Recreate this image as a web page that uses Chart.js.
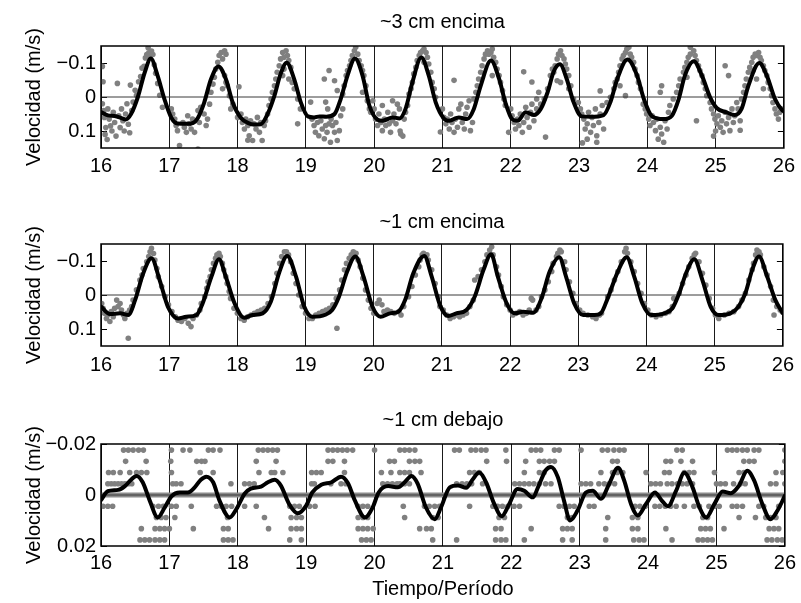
<!DOCTYPE html>
<html>
<head>
<meta charset="utf-8">
<script src="https://cdn.jsdelivr.net/npm/chart.js@4.4.1/dist/chart.umd.min.js"></script>
<style>
body { margin: 0; background: #fff; }
canvas { position: absolute; left: 0; }
</style>
</head>
<body>
<canvas id="c1" width="801" height="200" style="top:0px"></canvas>
<canvas id="c2" width="801" height="200" style="top:200px"></canvas>
<canvas id="c3" width="801" height="203" style="top:400px"></canvas>
<script>
const xTicks = [16, 17, 18, 19, 20, 21, 22, 23, 24, 25, 26];
const titles = ["~3 cm encima", "~1 cm encima", "~1 cm debajo"];
const yTitle = "Velocidad (m/s)";
const xTitle = "Tiempo/Período";

const yTicksAbove = [-0.1, 0, 0.1];
const yLabelsAbove = ["\u22120.1", "0", "0.1"];
const yTicksBelow = [-0.02, 0, 0.02];
const yLabelsBelow = ["\u22120.02", "0", "0.02"];

// smooth (black) curve, panel 1
const curveT1 = [16.00,16.10,16.20,16.30,16.36,16.44,16.54,16.64,16.73,16.83,16.93,17.03,17.12,17.25,17.35,17.42,17.51,17.61,17.72,17.83,17.93,
  18.05,18.15,18.25,18.34,18.44,18.54,18.63,18.72,18.83,18.93,19.03,19.12,19.20,19.30,19.42,19.51,19.61,19.72,19.83,19.93,
  20.05,20.12,20.27,20.37,20.46,20.56,20.69,20.80,20.90,21.02,21.10,21.24,21.36,21.46,21.56,21.71,21.83,21.92,
  22.02,22.10,22.22,22.34,22.44,22.54,22.63,22.72,22.82,22.92,23.04,23.17,23.36,23.46,23.56,23.71,23.85,23.95,
  24.07,24.24,24.36,24.46,24.55,24.68,24.80,24.92,25.02,25.16,25.28,25.38,25.48,25.64,25.75,25.87,25.98,26.00];
const curveV1 = [0.044,0.054,0.056,0.062,0.066,0.050,0.000,-0.072,-0.113,-0.062,0.007,0.061,0.078,0.079,0.076,0.061,0.017,-0.052,-0.090,-0.052,0.017,
  0.062,0.076,0.081,0.080,0.050,-0.004,-0.068,-0.101,-0.052,0.018,0.057,0.060,0.057,0.058,0.050,0.006,-0.063,-0.113,-0.063,0.025,
  0.067,0.070,0.060,0.063,0.035,-0.043,-0.116,-0.063,0.015,0.063,0.070,0.060,0.065,0.035,-0.033,-0.107,-0.053,0.015,
  0.065,0.070,0.045,0.053,0.035,-0.014,-0.075,-0.096,-0.053,0.015,0.057,0.058,0.053,0.015,-0.053,-0.110,-0.063,0.006,
  0.057,0.065,0.055,0.006,-0.063,-0.105,-0.063,0.001,0.033,0.045,0.053,0.035,-0.033,-0.100,-0.063,0.006,0.040,0.042];

// smooth curve, panel 2
const curveT2 = [16.00,16.13,16.28,16.40,16.50,16.62,16.74,16.86,16.98,17.13,17.25,17.40,17.49,17.62,17.73,17.83,17.96,
  18.10,18.22,18.37,18.49,18.61,18.73,18.86,18.98,19.10,19.29,19.39,19.49,19.61,19.73,19.85,19.98,
  20.10,20.24,20.36,20.46,20.58,20.74,20.85,20.97,21.09,21.21,21.36,21.48,21.61,21.72,21.82,21.95,
  22.07,22.19,22.34,22.46,22.58,22.72,22.82,22.94,23.07,23.24,23.33,23.43,23.58,23.71,23.82,23.94,
  24.07,24.26,24.38,24.48,24.58,24.70,24.82,24.94,25.06,25.23,25.35,25.45,25.55,25.65,25.77,25.89,26.00];
const curveV2 = [0.034,0.056,0.054,0.059,0.015,-0.064,-0.108,-0.044,0.034,0.069,0.064,0.059,0.025,-0.054,-0.105,-0.054,0.025,
  0.067,0.059,0.054,0.020,-0.064,-0.115,-0.054,0.034,0.064,0.058,0.044,0.005,-0.069,-0.113,-0.054,0.034,
  0.064,0.054,0.049,0.015,-0.064,-0.115,-0.054,0.029,0.062,0.054,0.044,0.005,-0.074,-0.120,-0.054,0.025,
  0.054,0.049,0.052,0.010,-0.069,-0.111,-0.054,0.025,0.059,0.059,0.054,0.010,-0.069,-0.111,-0.054,0.025,
  0.059,0.054,0.039,-0.005,-0.064,-0.105,-0.044,0.034,0.059,0.054,0.034,-0.005,-0.074,-0.113,-0.054,0.015,0.054];

// smooth curve, panel 3
const curveT3 = [16.00,16.10,16.25,16.35,16.44,16.52,16.61,16.71,16.83,16.93,17.03,17.15,17.27,17.37,17.46,17.54,17.64,17.73,17.88,17.98,
  18.10,18.19,18.34,18.44,18.54,18.63,18.75,18.88,19.00,19.09,19.22,19.37,19.51,19.61,19.71,19.86,19.97,
  20.06,20.20,20.34,20.44,20.54,20.63,20.75,20.88,20.97,21.10,21.22,21.34,21.44,21.53,21.63,21.75,21.86,21.97,
  22.09,22.19,22.31,22.41,22.50,22.58,22.68,22.77,22.86,22.97,23.09,23.19,23.31,23.43,23.56,23.65,23.75,23.85,23.97,
  24.10,24.20,24.29,24.41,24.53,24.65,24.75,24.85,24.97,25.09,25.21,25.33,25.45,25.55,25.67,25.79,25.89,26.00];
const curveV3 = [0.0020,-0.0015,-0.0020,-0.0035,-0.0060,-0.0075,-0.0050,0.0020,0.0088,0.0050,0.0005,-0.0010,-0.0010,-0.0030,-0.0060,-0.0072,-0.0050,0.0020,0.0088,0.0055,
  -0.0005,-0.0025,-0.0033,-0.0050,-0.0060,-0.0037,0.0035,0.0072,0.0042,-0.0010,-0.0040,-0.0050,-0.0072,-0.0047,0.0020,0.0088,0.0050,
  -0.0010,-0.0035,-0.0030,-0.0050,-0.0075,-0.0045,0.0048,0.0095,0.0050,-0.0030,-0.0037,-0.0028,-0.0063,-0.0088,-0.0050,0.0035,0.0083,0.0035,
  -0.0024,-0.0017,0.0009,-0.0043,-0.0096,-0.0110,-0.0070,0.0022,0.0100,0.0060,-0.0010,-0.0017,0.0015,-0.0043,-0.0107,-0.0057,0.0035,0.0080,0.0035,
  -0.0010,0.0022,0.0044,-0.0017,-0.0087,-0.0030,0.0048,0.0088,0.0035,-0.0014,-0.0007,-0.0037,-0.0095,-0.0057,0.0035,0.0095,0.0062,0.0003];

// measured points (grey), panel 1: [time, velocity]
const dots1 = [
  [16.02,-0.09],[16.03,-0.045],[16.02,0.02],[16.04,0.04],[16.05,0.06],[16.07,0.09],[16.06,0.11],[16.09,0.125],[16.1,0.035],[16.12,0.065],
  [16.14,0.085],[16.16,0.1],[16.18,0.045],[16.2,0.075],[16.22,0.115],[16.24,-0.04],[16.26,0.055],[16.28,0.09],[16.3,0.035],[16.32,0.07],
  [16.34,0.1],[16.36,0.05],[16.38,0.02],[16.4,0.08],[16.42,0.105],[16.43,-0.035],[16.45,0.04],[16.47,0.015],[16.5,-0.02],[16.52,-0.005],
  [16.55,-0.045],[16.58,-0.06],[16.6,-0.085],[16.63,-0.09],[16.65,-0.115],[16.67,-0.125],[16.69,-0.145],[16.7,-0.13],[16.72,-0.12],[16.74,-0.135],
  [16.76,-0.125],[16.78,-0.095],[16.8,-0.07],[16.83,-0.04],[16.86,-0.005],[16.9,0.03],
  [17.03,0.035],[17.05,0.05],[17.08,0.065],[17.1,0.084],[17.12,0.099],[17.15,0.143],[17.2,0.075],[17.22,0.089],[17.25,0.104],[17.27,0.055],
  [17.29,0.079],[17.32,0.094],[17.34,0.065],[17.37,0.104],[17.42,0.04],[17.42,0.153],[17.44,0.075],[17.46,0.03],[17.51,0.05],[17.54,0.084],
  [17.56,0.065],[17.59,0.021],[17.61,-0.014],[17.64,-0.038],[17.66,-0.058],[17.68,-0.082],[17.71,-0.102],[17.73,-0.122],[17.76,-0.131],[17.78,-0.112],
  [17.81,-0.136],[17.83,-0.126],[17.81,-0.063],[17.83,-0.043],[17.78,-0.024],[17.85,-0.033],[17.88,-0.004],[17.9,0.035],[17.93,0.021],
  [18.05,0.05],[18.07,0.075],[18.1,0.094],[18.12,0.065],[18.15,0.084],[18.17,0.114],[18.19,0.07],[18.22,0.128],[18.24,0.079],[18.27,0.094],
  [18.29,0.06],[18.32,0.104],[18.34,0.075],[18.36,0.128],[18.39,0.084],[18.41,0.07],[18.44,0.05],[18.46,0.025],[18.49,0.006],[18.51,-0.014],
  [18.54,-0.033],[18.56,-0.053],[18.58,-0.073],[18.61,-0.092],[18.63,-0.112],[18.66,-0.131],[18.68,-0.117],[18.71,-0.136],[18.73,-0.122],[18.75,-0.107],
  [18.78,-0.087],[18.68,-0.082],[18.66,-0.063],[18.75,-0.053],[18.8,-0.043],[18.83,-0.024],[18.88,0.079],[18.88,0.006],[18.92,0.035],[18.15,0.127],
  [18.0,0.06],[18.02,-0.03],
  [19.07,0.015],[19.09,0.065],[19.12,0.084],[19.14,0.104],[19.17,0.075],[19.19,0.114],[19.22,0.07],[19.24,0.094],[19.27,0.123],[19.29,0.084],
  [19.31,0.104],[19.34,0.079],[19.36,0.133],[19.27,-0.053],[19.34,-0.078],[19.29,0.015],[19.32,0.035],[19.37,0.065],[19.39,0.084],[19.42,0.104],
  [19.44,0.075],[19.46,0.128],[19.49,0.099],[19.51,0.055],[19.54,0.035],[19.42,-0.048],[19.46,-0.019],[19.54,-0.009],[19.56,-0.033],[19.59,-0.063],
  [19.61,-0.078],[19.64,-0.092],[19.66,-0.107],[19.68,-0.122],[19.71,-0.136],[19.73,-0.146],[19.76,-0.126],[19.78,-0.107],[19.81,-0.092],[19.83,-0.078],
  [19.85,-0.063],[19.88,-0.033],[19.83,-0.014],[19.9,0.011],[19.93,0.035],[19.95,0.045],
  [19.98,0.011],[20.0,0.035],[20.02,0.065],[20.05,0.084],[20.07,0.05],[20.1,0.075],[20.12,0.099],[20.15,0.065],[20.17,0.084],[20.2,0.045],
  [20.22,0.079],[20.24,0.104],[20.27,0.07],[20.29,0.05],[20.32,0.079],[20.34,0.021],[20.37,0.035],[20.39,0.109],[20.44,0.065],[20.46,0.045],
  [20.49,0.025],[20.12,0.025],[20.27,0.011],[20.38,0.1],[20.42,0.115],[20.51,-0.009],[20.54,-0.024],[20.56,-0.043],[20.58,-0.068],[20.61,-0.087],
  [20.63,-0.107],[20.66,-0.122],[20.68,-0.131],[20.71,-0.136],[20.73,-0.141],[20.76,-0.131],[20.78,-0.117],[20.73,-0.102],[20.8,-0.097],[20.83,-0.073],
  [20.85,-0.043],[20.88,-0.024],[20.9,0.001],
  [20.97,0.103],[21.0,0.035],[21.02,0.06],[21.05,0.079],[21.07,0.065],[21.1,0.094],[21.12,0.05],[21.14,0.075],[21.17,0.104],[21.17,-0.049],
  [21.19,0.065],[21.22,0.089],[21.24,0.035],[21.27,0.021],[21.29,0.075],[21.32,0.094],[21.34,0.05],[21.36,0.03],[21.39,0.011],[21.41,0.099],
  [21.44,0.075],[21.46,0.006],[21.49,-0.014],[21.51,-0.033],[21.53,-0.053],[21.56,-0.073],[21.58,-0.092],[21.61,-0.112],[21.63,-0.126],[21.66,-0.136],
  [21.68,-0.126],[21.71,-0.131],[21.73,-0.141],[21.75,-0.117],[21.78,-0.102],[21.8,-0.082],[21.73,-0.063],[21.83,-0.063],[21.85,-0.043],[21.88,-0.019],
  [21.9,0.006],[21.92,0.025],
  [21.97,0.104],[22.0,0.035],[22.02,0.055],[22.05,0.075],[22.07,0.094],[22.1,0.065],[22.12,0.084],[22.14,0.05],[22.17,0.104],[22.19,0.075],
  [22.19,-0.074],[22.22,0.03],[22.24,0.06],[22.27,0.089],[22.29,0.045],[22.31,0.021],[22.31,-0.044],[22.34,0.07],[22.38,0.035],[22.38,0.006],
  [22.41,-0.014],[22.44,0.021],[22.49,0.006],[22.51,0.118],[22.54,-0.024],[22.58,-0.063],[22.61,-0.082],[22.63,-0.073],[22.65,-0.092],[22.68,-0.112],
  [22.7,-0.126],[22.73,-0.136],[22.75,-0.122],[22.78,-0.112],[22.8,-0.097],[22.82,-0.082],[22.85,-0.063],[22.88,-0.033],[22.73,-0.043],[22.68,-0.048],
  [22.85,-0.024],[22.92,0.006],
  [22.99,0.016],[23.02,0.035],[23.04,0.05],[23.07,0.065],[23.09,0.094],[23.12,0.079],[23.14,0.045],[23.17,0.104],[23.19,0.06],[23.21,0.084],
  [23.24,0.035],[23.26,0.114],[23.29,0.075],[23.31,0.05],[23.34,0.025],[23.36,0.094],[23.12,0.124],[23.05,0.135],[23.26,0.133],[23.31,-0.018],
  [23.41,0.016],[23.46,0.001],[23.51,-0.024],[23.53,-0.043],[23.56,-0.053],[23.58,-0.073],[23.6,-0.092],[23.63,-0.112],[23.65,-0.122],[23.68,-0.131],
  [23.7,-0.141],[23.73,-0.146],[23.75,-0.126],[23.77,-0.117],[23.8,-0.102],[23.82,-0.082],[23.85,-0.063],[23.87,-0.043],[23.9,-0.024],[23.6,-0.033],
  [23.68,-0.004],
  [23.94,0.021],[23.97,0.035],[23.99,0.05],[24.02,0.065],[24.04,0.084],[24.07,0.055],[24.09,0.075],[24.12,0.099],[24.14,0.065],[24.16,0.124],
  [24.19,0.089],[24.21,0.109],[24.24,0.133],[24.26,0.07],[24.29,0.094],[24.31,0.045],[24.33,0.025],[24.19,-0.014],[24.21,-0.033],[24.38,0.006],
  [24.43,-0.014],[24.46,-0.033],[24.48,-0.053],[24.53,-0.073],[24.55,-0.087],[24.58,-0.102],[24.6,-0.117],[24.63,-0.126],[24.68,-0.136],[24.7,-0.122],
  [24.72,-0.107],[24.75,-0.092],[24.77,-0.078],[24.8,-0.063],[24.82,-0.043],[24.85,-0.024],[24.87,-0.004],[24.58,-0.058],[24.72,0.07],[24.63,-0.146],
  [24.92,0.016],[24.94,0.035],[24.97,0.05],[24.99,0.065],[25.02,0.079],[25.04,0.055],[25.07,0.089],[25.09,0.07],[25.11,0.104],[25.14,0.045],
  [25.16,0.079],[25.19,0.06],[25.21,0.099],[25.24,0.035],[25.26,0.075],[25.28,0.055],[25.31,0.016],[25.33,0.035],[25.36,0.07],[25.38,0.006],
  [25.14,-0.092],[25.19,-0.063],[24.97,0.115],[25.0,0.1],[25.36,0.098],[25.41,-0.014],[25.43,-0.033],[25.45,-0.053],[25.48,-0.073],[25.5,-0.087],
  [25.53,-0.102],[25.55,-0.117],[25.58,-0.126],[25.6,-0.122],[25.63,-0.131],[25.65,-0.117],[25.67,-0.107],[25.7,-0.092],[25.72,-0.078],[25.75,-0.063],
  [25.77,-0.043],[25.8,-0.024],[25.82,-0.004],[25.84,0.016],[25.87,0.035],[25.89,0.05],[25.92,0.065],[25.94,0.045],[25.96,0.035],[25.55,-0.078],
  [25.6,-0.053],[25.7,-0.024]
];

// measured points, panel 2
const dots2 = [
  [16.01,0.025],[16.03,0.039],[16.05,0.054],[16.08,0.069],[16.1,0.059],[16.13,0.078],[16.15,0.049],[16.18,0.064],[16.2,0.039],[16.23,0.015],
  [16.25,0.034],[16.28,0.025],[16.3,0.044],[16.33,0.059],[16.35,0.069],[16.38,0.054],[16.4,0.127],[16.42,0.044],[16.45,0.034],[16.47,0.015],
  [16.52,-0.015],[16.57,-0.044],[16.6,-0.059],[16.62,-0.078],[16.67,-0.098],[16.7,-0.113],[16.72,-0.127],[16.74,-0.137],[16.77,-0.122],[16.79,-0.103],
  [16.82,-0.078],[16.84,-0.054],[16.89,-0.025],[16.94,0.005],[16.99,0.029],[17.04,0.049],[17.09,0.064],[17.13,0.074],[17.18,0.078],
  [17.23,0.069],[17.28,0.083],[17.32,0.093],[17.35,0.069],[17.4,0.059],[17.45,0.044],[17.47,0.025],[17.52,0.005],[17.55,-0.02],[17.57,-0.039],
  [17.6,-0.054],[17.62,-0.074],[17.65,-0.093],[17.68,-0.108],[17.7,-0.118],[17.73,-0.123],[17.75,-0.113],[17.78,-0.093],[17.8,-0.074],[17.83,-0.054],
  [17.85,-0.034],[17.88,-0.01],[17.9,0.01],[17.95,0.039],[18.0,0.054],[18.05,0.069],[18.1,0.074],
  [18.15,0.064],[18.2,0.059],[18.25,0.054],[18.3,0.049],[18.35,0.044],[18.4,0.039],[18.45,0.025],[18.5,0.005],[18.55,-0.034],[18.58,-0.064],
  [18.62,-0.093],[18.65,-0.113],[18.69,-0.127],[18.72,-0.127],[18.75,-0.118],[18.78,-0.098],[18.82,-0.064],[18.86,-0.034],[18.9,0.0],[18.95,0.034],
  [19.0,0.054],[19.05,0.069],[19.1,0.069],[19.15,0.059],
  [19.2,0.054],[19.25,0.049],[19.3,0.044],[19.35,0.039],[19.4,0.029],[19.46,0.098],[19.45,0.01],[19.5,-0.015],[19.53,-0.044],[19.57,-0.074],
  [19.6,-0.093],[19.64,-0.108],[19.67,-0.118],[19.7,-0.127],[19.74,-0.123],[19.77,-0.103],[19.8,-0.083],[19.84,-0.049],[19.88,-0.015],[19.92,0.015],
  [19.96,0.039],[20.0,0.054],[20.05,0.025],[20.08,0.015],[20.12,0.029],[20.15,0.049],
  [20.2,0.044],[20.25,0.049],[20.3,0.054],[20.37,0.049],[20.4,0.059],[20.44,0.034],[20.51,0.005],[20.56,-0.025],[20.61,-0.059],[20.66,-0.083],
  [20.68,-0.103],[20.71,-0.118],[20.73,-0.123],[20.78,-0.118],[20.8,-0.103],[20.85,-0.074],[20.9,-0.034],[20.95,0.005],[20.97,0.034],[21.02,0.044],
  [21.07,0.059],[21.12,0.069],[21.17,0.064],[21.21,0.059],[21.26,0.064],[21.31,0.059],[21.36,0.054],
  [21.41,0.034],[21.46,0.015],[21.48,-0.044],[21.53,-0.054],[21.58,-0.074],[21.63,-0.098],[21.66,-0.118],[21.7,-0.132],[21.73,-0.142],[21.75,-0.118],
  [21.8,-0.083],[21.83,-0.059],[21.87,-0.025],[21.9,0.005],[21.95,0.029],[22.0,0.044],[22.04,0.059],[22.09,0.054],[22.14,0.049],[22.19,0.059],
  [22.24,0.054],[22.28,0.044],[22.31,0.01],[22.33,0.015],[22.38,0.044],
  [22.42,0.034],[22.46,0.005],[22.51,-0.015],[22.56,-0.039],[22.61,-0.069],[22.63,-0.093],[22.68,-0.113],[22.7,-0.123],[22.73,-0.132],[22.75,-0.127],
  [22.8,-0.098],[22.82,-0.074],[22.87,-0.039],[22.92,-0.005],[22.97,0.025],[23.02,0.044],[23.07,0.054],[23.14,0.059],[23.21,0.064],[23.26,0.069],
  [23.31,0.059],[23.34,0.054],
  [23.43,0.005],[23.48,-0.015],[23.53,-0.044],[23.58,-0.069],[23.63,-0.098],[23.68,-0.127],[23.7,-0.137],[23.72,-0.123],[23.77,-0.098],[23.82,-0.069],
  [23.87,-0.034],[23.92,-0.005],[23.97,0.025],[24.02,0.044],[24.07,0.059],[24.14,0.064],[24.21,0.059],[24.28,0.054],[24.33,0.049],[24.38,0.034],
  [24.4,0.01],
  [24.48,-0.005],[24.53,-0.034],[24.58,-0.059],[24.62,-0.083],[24.67,-0.108],[24.7,-0.118],[24.72,-0.123],[24.77,-0.098],[24.82,-0.064],[24.87,-0.029],
  [24.92,0.01],[24.97,0.039],[25.01,0.059],[25.06,0.069],[25.14,0.059],[25.21,0.054],[25.28,0.049],[25.35,0.034],[25.4,0.015],[25.45,-0.005],
  [25.5,-0.044],[25.55,-0.074],[25.57,-0.093],[25.6,-0.118],[25.62,-0.132],[25.65,-0.127],[25.67,-0.118],[25.72,-0.083],[25.77,-0.059],[25.82,-0.025],
  [25.86,0.015],[25.91,0.034],[25.96,0.044],[25.87,0.059],[25.99,0.049]
];

// panel 3: the readings are quantised, so points sit on a few levels
const levels3 = [-0.0176, -0.0132, -0.0088, -0.0044, 0.0044, 0.0088, 0.0132, 0.0176];
const rowTimes3 = [
  [16.33,16.40,16.47,16.55,16.62,17.03,17.20,17.30,17.57,17.64,17.74,18.30,18.37,18.44,18.51,18.58,19.32,19.39,19.46,19.53,19.60,19.68,20.0,
   20.37,20.44,20.51,20.59,21.17,21.24,21.41,21.48,21.56,21.63,21.92,22.29,22.36,22.43,22.63,22.70,23.02,23.33,23.41,23.50,23.58,23.65,
   24.42,24.50,25.16,25.23,25.30,25.38,25.45,25.55,25.62,26.0],
  [16.36,16.66,17.02,17.40,17.47,17.52,18.27,18.56,19.32,19.39,19.56,20.22,20.29,20.51,20.59,20.66,21.64,21.93,22.21,22.41,22.48,22.56,22.63,
   23.48,23.55,24.26,24.33,24.48,24.65,25.40,25.48,25.55,26.0],
  [16.11,16.18,16.28,16.42,16.52,16.59,16.67,17.03,17.45,17.64,18.31,18.49,18.54,18.66,19.08,19.15,19.22,19.56,20.1,20.24,20.37,20.44,20.51,
   20.68,21.39,21.46,21.53,22.19,22.41,22.48,23.31,23.48,23.55,23.63,23.97,24.24,24.31,24.53,24.6,24.67,24.97,25.33,25.4,25.87,25.97],
  [16.10,16.15,16.20,16.25,16.30,16.35,16.40,16.45,17.05,17.10,17.17,17.90,18.10,18.17,18.24,19.08,19.12,19.36,19.51,19.58,20.12,20.19,20.26,
   20.33,20.37,20.44,20.51,21.20,21.28,21.35,21.42,21.58,22.05,22.12,22.19,22.26,22.33,22.41,22.50,22.58,23.02,23.09,23.16,23.28,23.36,23.43,
   23.51,24.04,24.11,24.18,24.28,24.35,24.43,24.50,24.57,24.65,25.0,25.06,25.13,25.25,25.35,25.42,25.79,25.87,26.0],
  [16.03,16.10,16.17,16.76,16.84,16.91,17.03,17.10,17.32,17.69,17.76,17.83,17.91,18.10,18.27,18.76,18.83,18.90,19.05,19.13,19.76,19.83,19.90,
   20.42,20.73,20.80,20.88,20.95,21.39,21.73,21.80,21.87,21.95,22.04,22.12,22.70,22.77,22.85,22.92,23.14,23.21,23.81,23.88,23.96,24.10,24.17,
   24.25,24.33,24.41,24.53,24.67,24.75,24.89,24.97,25.04,25.23,25.30,25.38,25.62,25.69,25.91],
  [16.81,16.88,16.95,17.08,17.85,18.39,18.78,18.86,18.93,19.76,19.83,19.90,20.44,20.85,20.93,21.82,21.90,22.82,22.89,23.41,23.77,23.85,24.80,
   24.87,25.33,25.57,25.72,25.79,25.87],
  [16.59,16.79,16.86,16.93,17.00,17.35,17.79,17.86,18.45,18.78,18.86,18.93,19.76,19.83,19.90,19.98,20.66,20.76,20.83,21.77,21.85,22.29,22.75,
   22.82,22.89,23.38,23.77,23.85,24.26,24.77,24.84,24.91,25.11,25.77,25.84,25.91],
  [16.57,16.64,16.71,16.79,16.86,16.93,17.79,17.86,17.93,18.76,18.93,19.81,19.88,19.95,20.85,21.20,21.77,21.85,21.92,22.19,22.75,22.89,23.38,
   23.79,23.87,23.94,24.35,24.73,24.80,24.87,24.94,25.74,25.81,25.89,25.96]
];
// the zero level is filled with points along the whole record
const zeroRowSpan3 = [16, 26];

const FONT = "'Liberation Sans', Arial, Helvetica, sans-serif";
Chart.defaults.font.family = FONT;
Chart.defaults.font.size = 20;
Chart.defaults.color = "#000";

const boxPlugin = {
  id: "box",
  beforeDatasetsDraw(chart) {
    const { ctx, chartArea: a, scales } = chart;
    ctx.save();
    ctx.strokeStyle = "#000";
    ctx.lineWidth = 1;
    scales.y.ticks.forEach(t => {
      let py = Math.round(scales.y.getPixelForValue(t.value)) + 0.5;
      ctx.beginPath();
      ctx.moveTo(a.left, py); ctx.lineTo(a.left + 6, py);
      ctx.moveTo(a.right - 6, py); ctx.lineTo(a.right, py);
      ctx.stroke();
    });
    ctx.restore();
  },
  afterDatasetsDraw(chart) {
    const { ctx, chartArea: a } = chart;
    ctx.save();
    ctx.strokeStyle = "#000";
    ctx.lineWidth = 1.5;
    ctx.strokeRect(a.left, a.top, a.right - a.left, a.bottom - a.top);
    ctx.restore();
  }
};

function makePanel(id, p) {
  let datasets = [
    {
      type: "line",
      data: p.curveT.map((t, i) => ({ x: t, y: p.curveV[i] })),
      borderColor: "#000", borderWidth: 4, pointRadius: 0,
      cubicInterpolationMode: "monotone", borderJoinStyle: "round", borderCapStyle: "round",
      fill: false, clip: 0, order: 0
    },
    {
      type: "line",
      data: p.zeroT.map(t => ({ x: t, y: 0 })),
      borderColor: "#3a3a3a", borderWidth: 1, pointRadius: 0, fill: false, clip: 0, order: 1
    },
    {
      type: "scatter",
      data: p.dots.map(d => ({ x: d[0], y: d[1] })),
      backgroundColor: "#808080", borderWidth: 0, pointRadius: 2.8, clip: 0, order: 3
    }
  ];
  if (p.zeroRow) {
    datasets.push({
      type: "line",
      data: p.zeroRow.map(t => ({ x: t, y: 0 })),
      borderColor: "#8c8c8c", borderWidth: 5, pointRadius: 0, fill: false, clip: 0, order: 2
    });
  }

  return new Chart(document.getElementById(id), {
    type: "scatter",
    data: { datasets: datasets },
    plugins: [boxPlugin],
    options: {
      responsive: false,
      animation: false,
      devicePixelRatio: 1,
      layout: { padding: { left: 0, right: 15, top: 0, bottom: p.padBottom } },
      plugins: {
        legend: { display: false },
        tooltip: { enabled: false },
        title: {
          display: true, text: p.title, fullSize: false,
          font: { size: 20, weight: "normal", lineHeight: 1.2 },
          padding: { top: p.titleTop, bottom: p.titleBottom }
        }
      },
      scales: {
        x: {
          type: "linear", min: 16, max: 26,
          afterBuildTicks: s => { s.ticks = xTicks.map(v => ({ value: v })); },
          afterFit: s => { s.height = p.xHeight; },
          ticks: { padding: p.xPad, maxRotation: 0, autoSkip: false, callback: v => String(v) },
          grid: { color: "#1a1a1a", lineWidth: 1, drawTicks: false },
          border: { display: false },
          title: p.xTitle ? { display: true, text: p.xTitle, padding: { top: 0, bottom: 2 } } : { display: false }
        },
        y: {
          type: "linear", min: p.yMin, max: p.yMax, reverse: true,
          afterBuildTicks: s => { s.ticks = p.yTicks.map(v => ({ value: v })); },
          afterFit: s => { s.width = 101; },
          ticks: { padding: 5, autoSkip: false, callback: (v, i) => p.yLabels[i] },
          grid: { display: false, drawTicks: false },
          border: { display: false },
          title: { display: true, text: yTitle, padding: { top: 22, bottom: 0 } }
        }
      }
    }
  });
}

let dots3 = [];
levels3.forEach((lv, r) => rowTimes3[r].forEach(t => dots3.push([t, lv])));

makePanel("c1", {
  title: titles[0], titleTop: 10, titleBottom: 12, xHeight: 52, xPad: 6, padBottom: 0,
  yMin: -0.15, yMax: 0.15, yTicks: yTicksAbove, yLabels: yLabelsAbove,
  curveT: curveT1, curveV: curveV1, dots: dots1, zeroT: zeroRowSpan3
});
makePanel("c2", {
  title: titles[1], titleTop: 10, titleBottom: 10, xHeight: 54, xPad: 7, padBottom: 0,
  yMin: -0.15, yMax: 0.15, yTicks: yTicksAbove, yLabels: yLabelsAbove,
  curveT: curveT2, curveV: curveV2, dots: dots2, zeroT: zeroRowSpan3
});
makePanel("c3", {
  title: titles[2], titleTop: 8.5, titleBottom: 11.5, xHeight: 57, xPad: 5, padBottom: 0,
  yMin: -0.02, yMax: 0.02, yTicks: yTicksBelow, yLabels: yLabelsBelow,
  curveT: curveT3, curveV: curveV3, dots: dots3, zeroT: zeroRowSpan3, zeroRow: zeroRowSpan3,
  xTitle: xTitle
});
</script>
</body>
</html>
